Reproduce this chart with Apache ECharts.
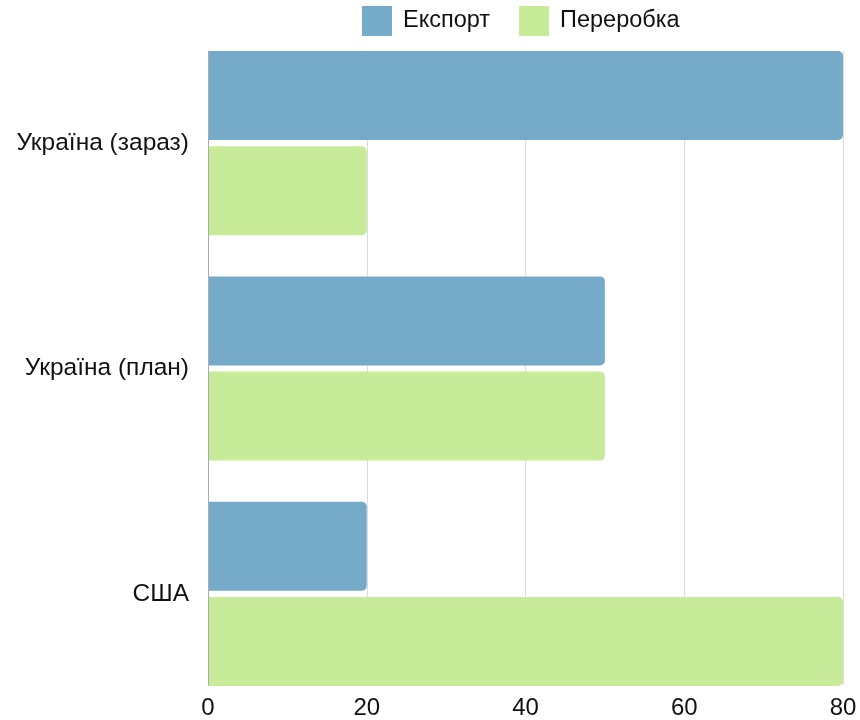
<!DOCTYPE html>
<html>
<head>
<meta charset="utf-8">
<script src="https://cdn.jsdelivr.net/npm/echarts@6/dist/echarts.min.js"></script>
<style>
html,body{margin:0;padding:0;background:#fff;}
#chart{width:860px;height:720px;}
</style>
</head>
<body>
<div id="chart"></div>
<script>
const categories = ['Україна (зараз)', 'Україна (план)', 'США'];
const seriesNames = ['Експорт', 'Переробка'];
const exportValues = [80, 50, 20];
const processingValues = [20, 50, 80];
const xTicks = [0, 20, 40, 60, 80];

const FONT = '"Liberation Sans", Arial, sans-serif';
const chart = echarts.init(document.getElementById('chart'), null, {renderer: 'canvas'});
chart.setOption({
  animation: false,
  backgroundColor: '#fff',
  textStyle: {fontFamily: FONT},
  legend: {
    top: 6,
    left: 362,
    padding: 0,
    itemWidth: 30,
    itemHeight: 30,
    itemGap: 29,
    icon: 'rect',
    data: seriesNames,
    textStyle: {fontSize: 23.5, color: '#111', fontFamily: FONT, padding: [0, 0, 0, 6]}
  },
  grid: [
    {left: 208, right: 17, top: 51, bottom: 34},
    {left: 208, right: 17, top: 30.5, bottom: 13.5}
  ],
  xAxis: [
    {
      type: 'value', gridIndex: 0, min: xTicks[0], max: xTicks[xTicks.length - 1], interval: 20,
      axisLine: {show: false}, axisTick: {show: false},
      axisLabel: {fontSize: 24, color: '#111', margin: 11, fontFamily: FONT},
      splitLine: {show: true, lineStyle: {color: '#dcdcdc', width: 1}}
    },
    {
      type: 'value', gridIndex: 1, min: xTicks[0], max: xTicks[xTicks.length - 1],
      show: false
    }
  ],
  yAxis: [
    {
      type: 'category', gridIndex: 0, data: categories, inverse: true, z: 10,
      axisLine: {show: true, lineStyle: {color: '#aaaaaa', width: 1}},
      axisTick: {show: false}, axisLabel: {show: false}, splitLine: {show: false}
    },
    {
      type: 'category', gridIndex: 1, data: categories, inverse: true,
      axisLine: {show: false}, axisTick: {show: false},
      axisLabel: {fontSize: 24.5, color: '#111', margin: 19, fontFamily: FONT},
      splitLine: {show: false}
    }
  ],
  series: [
    {
      name: seriesNames[0], type: 'bar', xAxisIndex: 1, yAxisIndex: 1,
      data: exportValues, barWidth: 89, barGap: '7%',
      itemStyle: {color: '#75aac8', borderRadius: [0, 5, 5, 0]}
    },
    {
      name: seriesNames[1], type: 'bar', xAxisIndex: 1, yAxisIndex: 1,
      data: processingValues, barWidth: 89, barGap: '7%',
      itemStyle: {color: '#c7eb98', borderRadius: [0, 5, 5, 0]}
    }
  ]
});
</script>
</body>
</html>
